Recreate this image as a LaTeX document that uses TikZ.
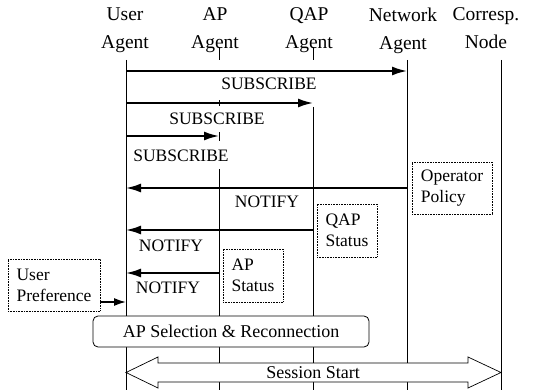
\documentclass[tikz,border=0pt]{standalone}
\usepackage{fontspec}
\setmainfont{Liberation Serif}
\usetikzlibrary{arrows.meta}
\begin{document}
\begin{tikzpicture}[x=1pt,y=-1pt,
  life/.style={line width=0.8pt},
  msg/.style={line width=1.8pt,-{Latex[length=15pt,width=9pt]}},
  lbl/.style={font=\fontsize{17.5}{20}\selectfont, inner sep=0pt},
  head/.style={font=\fontsize{19.5}{28}\selectfont, align=center, inner sep=0pt, anchor=north},
  note/.style={draw, densely dotted, line width=0.6pt, align=left, font=\fontsize{17.5}{21}\selectfont, inner sep=4pt},
]
\useasboundingbox (0,0) rectangle (537,390);
\node[head] (ua) at (125,7.5) {User\\Agent};
\node[head] (apa) at (215,7.5) {AP\\Agent};
\node[head] (qa) at (309,7.5) {QAP\\Agent};
\node[head] (na) at (403,7.5) {Network\\Agent};
\node[head] (cn) at (486,7.5) {Corresp.\\Node};
\coordinate (ut) at (126,60);
\coordinate (apt) at (219,60);
\coordinate (qt) at (313,60);
\coordinate (nt) at (407,60);
\coordinate (ct) at (501,60);
\coordinate (bot) at (0,390);
\coordinate (m1) at (0,71);
\coordinate (m2) at (0,103);
\coordinate (m3) at (0,136);
\coordinate (m4) at (0,188);
\coordinate (m5) at (0,230);
\coordinate (m6) at (0,273);
\coordinate (m7) at (0,302);
\draw[life] (ut) -- (ut |- bot);
\draw[life] (apt) -- ([yshift=13pt]apt);
\draw[life] ([yshift=-3pt]apt |- m2) -- ([yshift=3pt]apt |- m2);
\draw[life] ([yshift=-5pt]apt |- m3) -- ([yshift=4pt]apt |- m3);
\draw[life] (219,169) -- (apt |- bot);
\draw[life] (qt) -- ([yshift=13pt]qt);
\draw[life] ([yshift=-4pt]qt |- m2) -- (qt |- bot);
\draw[life] (nt) -- (nt |- bot);
\draw[life] (ct) -- (ct |- bot);
\draw[msg] (ut |- m1) -- (nt |- m1);
\node[lbl] (l1) at (269,84) {SUBSCRIBE};
\draw[msg] (ut |- m2) -- (qt |- m2);
\node[lbl] (l2) at (217,119) {SUBSCRIBE};
\draw[msg] (ut |- m3) -- (apt |- m3);
\node[lbl] (l3) at (181,156) {SUBSCRIBE};
\node[note, minimum width=80pt, minimum height=52pt] (op) at (452,188) {Operator\\Policy};
\draw[msg] (nt |- m4) -- (ut |- m4);
\node[lbl] (l4) at (267,202) {NOTIFY};
\node[note, minimum width=60pt, minimum height=53pt] (qs) at (347,230.5) {QAP\\Status};
\draw[msg] (qt |- m5) -- (ut |- m5);
\node[lbl] (l5) at (171,246) {NOTIFY};
\node[note, minimum width=60pt, minimum height=53pt] (as) at (253,275.5) {AP\\Status};
\draw[msg] (apt |- m6) -- (ut |- m6);
\node[lbl] (l6) at (168,288) {NOTIFY};
\node[note, minimum width=92pt, minimum height=52pt] (up) at (54,285) {User\\Preference};
\draw[line width=1.6pt,-{Latex[length=12pt,width=8pt]}] (up.east |- m7) -- (ut |- m7);
\node[draw, fill=white, line width=0.8pt, rounded corners=5pt, minimum width=276pt, minimum height=31pt, font=\fontsize{18}{20}\selectfont] (sel) at (231,331.5) {AP Selection \& Reconnection};
\draw[line width=0.7pt, fill=white] (126,372.5) -- (158,357) -- (158,363) -- (468,363) -- (468,357)
  -- (501,372.5) -- (468,388) -- (468,382) -- (158,382) -- (158,388) -- cycle;
\node[lbl, font=\fontsize{18}{20}\selectfont] (ss) at (313,373) {Session Start};
\end{tikzpicture}
\end{document}
